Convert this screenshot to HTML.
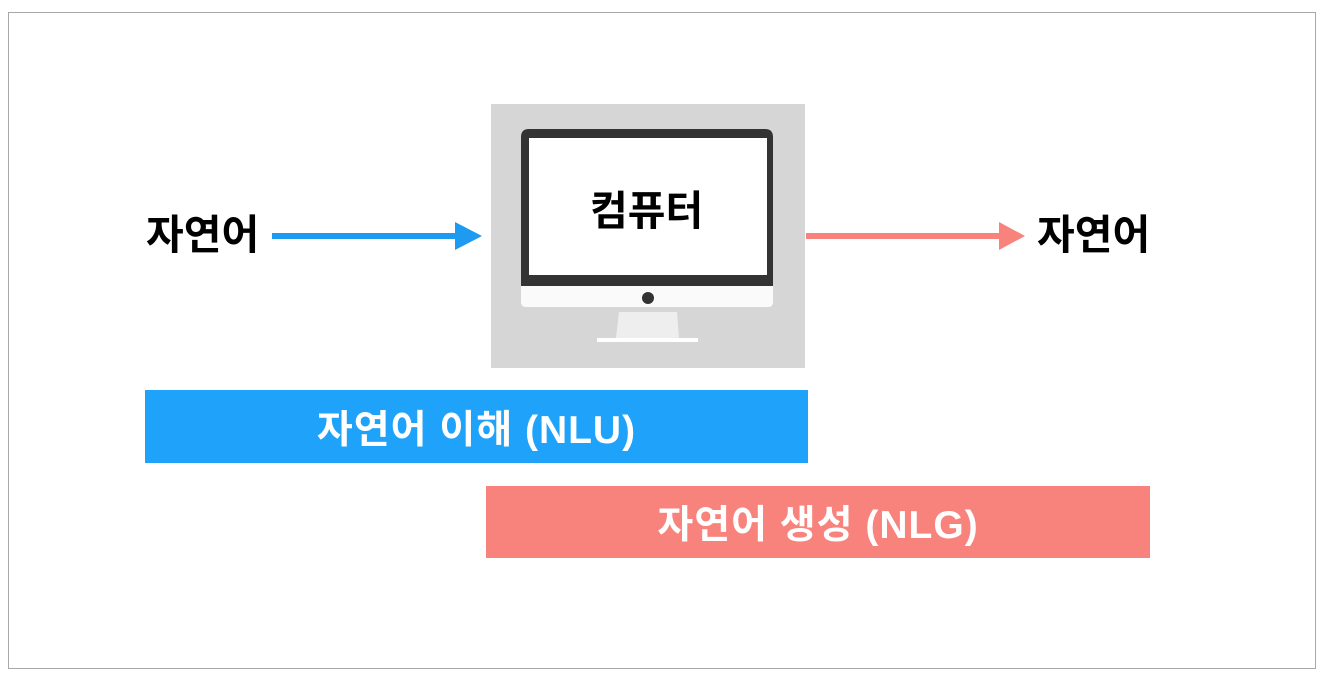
<!DOCTYPE html>
<html><head><meta charset="utf-8"><style>
body{margin:0;width:1326px;height:680px;background:#fff;position:relative;overflow:hidden;font-family:"Liberation Sans","Noto Sans CJK KR",sans-serif;font-weight:bold}
.a{position:absolute}
.t{position:absolute;font-size:41px;line-height:1;color:#000}
.bar{position:absolute;color:#fff;font-size:39px;letter-spacing:1px;display:flex;align-items:center;justify-content:center}
</style></head><body>
<div class="a" style="left:8px;top:12px;width:1306px;height:655px;border:1px solid #a8a8a8"></div>
<div class="a" style="left:491px;top:104px;width:314px;height:264px;background:#d6d6d6"></div>
<svg class="a" style="left:0;top:0" width="1326" height="680">
<path d="M521,137 Q521,129 529,129 L765,129 Q773,129 773,137 L773,287 L521,287 Z" fill="#333"/>
<rect x="529" y="138" width="238" height="137" fill="#fff"/>
<path d="M521,286 L773,286 L773,302 Q773,307 768,307 L526,307 Q521,307 521,302 Z" fill="#fafafa"/>
<circle cx="648" cy="298" r="6" fill="#333"/>
<path d="M619,312 L677,312 L679,338 L616,338 Z" fill="#eeeeee"/>
<rect x="597" y="338" width="101" height="4" fill="#fff"/>
<rect x="272" y="233" width="185" height="6" fill="#1e9bf0"/>
<path d="M455,222 L482,236 L455,250 Z" fill="#1e9bf0"/>
<rect x="806" y="233" width="195" height="6" fill="#f8827c"/>
<path d="M999,222 L1025,236 L999,250 Z" fill="#f8827c"/>
</svg>
<div class="t" style="left:590px;top:191px">컴퓨터</div>
<div class="t" style="left:146px;top:215px">자연어</div>
<div class="t" style="left:1037px;top:215px">자연어</div>
<div class="bar" style="left:145px;top:390px;width:663px;height:73px;background:#1fa3fa">자연어 이해 (NLU)</div>
<div class="bar" style="left:486px;top:486px;width:664px;height:72px;background:#f8827c">자연어 생성 (NLG)</div>
</body></html>
